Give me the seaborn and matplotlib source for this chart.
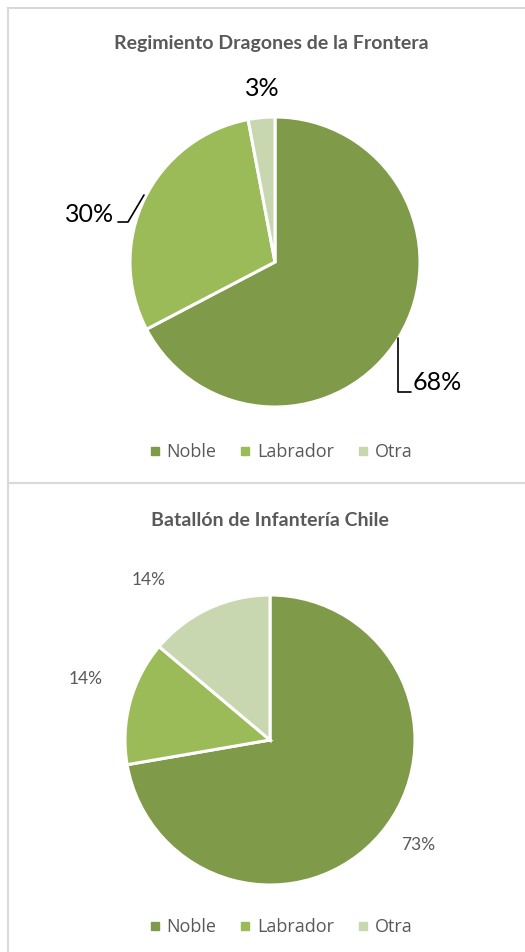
import matplotlib
matplotlib.use("Agg")
import matplotlib.pyplot as plt
import seaborn as sns
from matplotlib.patches import Rectangle
from matplotlib.lines import Line2D

# data
categories = ["Noble", "Labrador", "Otra"]
dragones_pct = [68, 30, 3]
infanteria_pct = [73, 14, 14]
titles = ["Regimiento Dragones de la Frontera", "Batallón de Infantería Chile"]
colors = ["#7F9A48", "#9BBB59", "#C9D7B0"]

sns.set_theme(style="white")
plt.rcParams["font.family"] = ["Lato", "DejaVu Sans"]

W, H = 525, 952
fig = plt.figure(figsize=(W / 100, H / 100), dpi=100)
ax = fig.add_axes([0, 0, 1, 1])


def Y(py):
    return H - py


grey = "#595959"
border = "#D9D9D9"

# panel borders
ax.add_patch(Rectangle((8, Y(483)), W, 475, fill=False, ec=border, lw=1.5, clip_on=False))
ax.add_patch(Rectangle((8, Y(H + 5)), W, H + 5 - 483, fill=False, ec=border, lw=1.5, clip_on=False))

wedge_kw = dict(edgecolor="white", linewidth=2.2)

# top pie
ax.pie(dragones_pct, colors=colors, startangle=90, counterclock=False,
       center=(275, Y(262)), radius=145, wedgeprops=wedge_kw)
ax.text(271, Y(43), titles[0], ha="center", va="center", fontsize=14,
        fontweight="bold", color=grey)
top_pos = [(437, 383), (90, 214), (262, 88)]
for v, (px, py) in zip(dragones_pct, top_pos):
    ax.text(px, Y(py), f"{v}%", ha="center", va="center", fontsize=18, color="black")
ax.plot([398, 398, 411], [Y(338), Y(392), Y(392)], color="black", lw=1.2)
ax.plot([118, 128, 144], [Y(222), Y(222), Y(195)], color="black", lw=1.2)

# bottom pie
ax.pie(infanteria_pct, colors=colors, startangle=90, counterclock=False,
       center=(270, Y(740)), radius=145, wedgeprops=wedge_kw)
ax.text(270, Y(520), titles[1], ha="center", va="center", fontsize=14,
        fontweight="bold", color=grey)
bot_pos = [(418, 845), (86, 679), (149, 580)]
for v, (px, py) in zip(infanteria_pct, bot_pos):
    ax.text(px, Y(py), f"{v}%", ha="center", va="center", fontsize=12.5, color=grey)

ax.set_xlim(0, W)
ax.set_ylim(0, H)
ax.set_aspect("auto")
ax.axis("off")

handles = [Line2D([], [], marker="s", ls="none", markersize=5.5, color=c) for c in colors]
for ly in (452, 927):
    fig.legend(handles, categories, loc="center", bbox_to_anchor=(281 / W, 1 - ly / H),
               ncol=3, frameon=False, handlelength=0.6, handletextpad=0.35,
               columnspacing=1.3, prop={"family": "Open Sans", "size": 13},
               labelcolor=grey)

fig.savefig("out.png", dpi=100)
